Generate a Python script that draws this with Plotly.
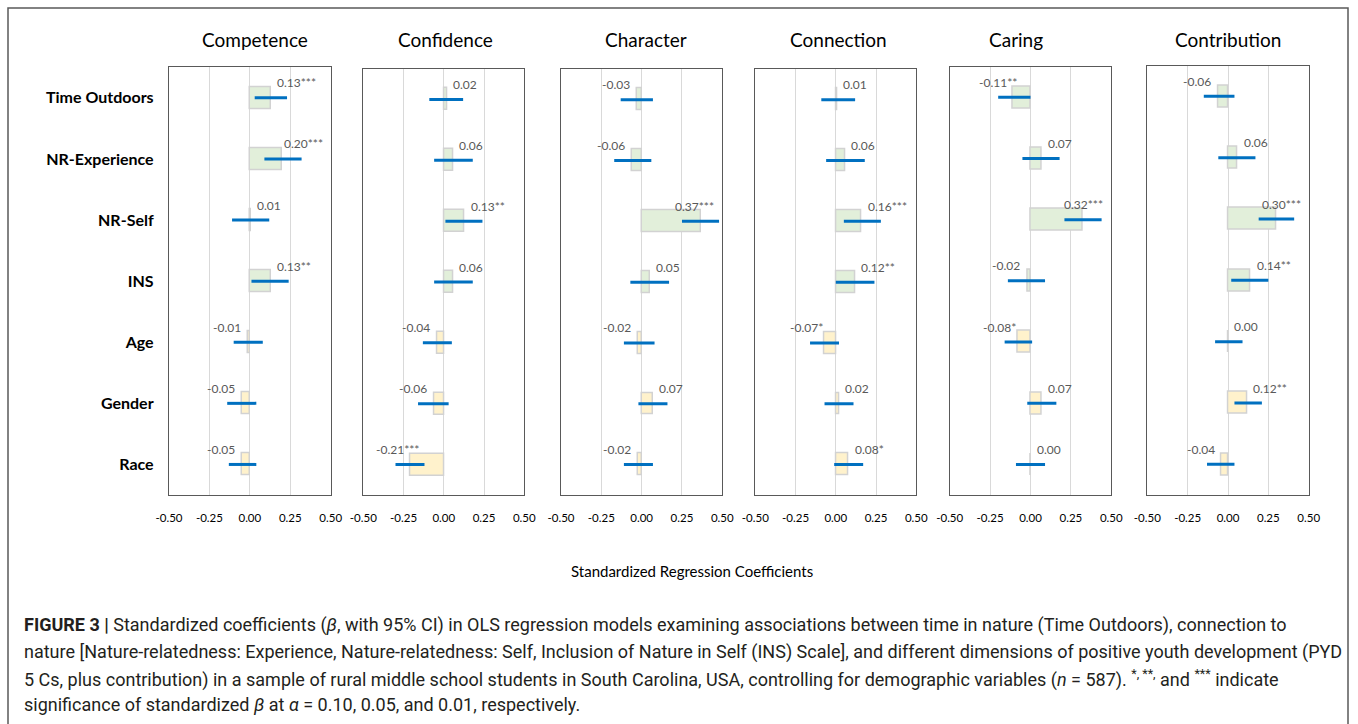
import plotly.graph_objects as go

# ---------------- data ----------------
categories = ["Time Outdoors", "NR-Experience", "NR-Self", "INS", "Age", "Gender", "Race"]
predictor_group = ["nature", "nature", "nature", "nature", "demo", "demo", "demo"]
outcomes = ["Competence", "Confidence", "Character", "Connection", "Caring", "Contribution"]
tick_values = [-0.50, -0.25, 0.00, 0.25, 0.50]
tick_labels = ["-0.50", "-0.25", "0.00", "0.25", "0.50"]

competence_beta = [0.13, 0.20, 0.01, 0.13, -0.01, -0.05, -0.05]
competence_sig = ["***", "***", "", "**", "", "", ""]
competence_lo = [0.03, 0.09, -0.11, 0.01, -0.10, -0.14, -0.13]
competence_hi = [0.23, 0.32, 0.12, 0.24, 0.08, 0.04, 0.04]

confidence_beta = [0.02, 0.06, 0.13, 0.06, -0.04, -0.06, -0.21]
confidence_sig = ["", "", "**", "", "", "", "***"]
confidence_lo = [-0.09, -0.06, 0.01, -0.06, -0.13, -0.16, -0.30]
confidence_hi = [0.12, 0.18, 0.24, 0.18, 0.05, 0.03, -0.12]

character_beta = [-0.03, -0.06, 0.37, 0.05, -0.02, 0.07, -0.02]
character_sig = ["", "", "***", "", "", "", ""]
character_lo = [-0.13, -0.17, 0.25, -0.07, -0.11, -0.02, -0.11]
character_hi = [0.07, 0.06, 0.48, 0.17, 0.08, 0.16, 0.07]

connection_beta = [0.01, 0.06, 0.16, 0.12, -0.07, 0.02, 0.08]
connection_sig = ["", "", "***", "**", "*", "", "*"]
connection_lo = [-0.09, -0.06, 0.05, 0.00, -0.16, -0.07, -0.01]
connection_hi = [0.12, 0.18, 0.28, 0.24, 0.02, 0.11, 0.17]

caring_beta = [-0.11, 0.07, 0.32, -0.02, -0.08, 0.07, 0.00]
caring_sig = ["**", "", "***", "", "*", "", ""]
caring_lo = [-0.20, -0.05, 0.21, -0.14, -0.16, -0.02, -0.09]
caring_hi = [0.00, 0.18, 0.44, 0.09, 0.01, 0.16, 0.09]

contribution_beta = [-0.06, 0.06, 0.30, 0.14, 0.00, 0.12, -0.04]
contribution_sig = ["", "", "***", "**", "", "**", ""]
contribution_lo = [-0.15, -0.06, 0.19, 0.02, -0.08, 0.04, -0.13]
contribution_hi = [0.04, 0.17, 0.41, 0.25, 0.09, 0.21, 0.04]

axis_title = "Standardized Regression Coefficients"
caption_lines = [
    "<b>FIGURE 3 |</b> Standardized coefficients (<i>β</i>, with 95% CI) in OLS regression models examining associations between time in nature (Time Outdoors), connection to",
    "nature [Nature-relatedness: Experience, Nature-relatedness: Self, Inclusion of Nature in Self (INS) Scale], and different dimensions of positive youth development (PYD",
    "5 Cs, plus contribution) in a sample of rural middle school students in South Carolina, USA, controlling for demographic variables (<i>n</i> = 587). <sup>*, **,</sup> and <sup>***</sup> indicate",
    "significance of standardized <i>β</i> at <i>α</i> = 0.10, 0.05, and 0.01, respectively.",
]

panels = [
    (competence_beta, competence_sig, competence_lo, competence_hi),
    (confidence_beta, confidence_sig, confidence_lo, confidence_hi),
    (character_beta, character_sig, character_lo, character_hi),
    (connection_beta, connection_sig, connection_lo, connection_hi),
    (caring_beta, caring_sig, caring_lo, caring_hi),
    (contribution_beta, contribution_sig, contribution_lo, contribution_hi),
]

# ---------------- layout geometry (pixels) ----------------
W, H = 1358, 724
panel_x = [(169.0, 330.7), (363.3, 524.3), (561.0, 722.3), (755.3, 916.3), (949.7, 1111.3), (1147.3, 1308.7)]
panel_top = [67.3, 69.0, 69.3, 69.3, 66.7, 65.7]
panel_bottom = 495.0
title_x = [255, 445, 646, 838, 1016, 1228]
title_y = 40

FONT = "Lato, 'Open Sans', sans-serif"
CAP_FONT = "Roboto, 'Liberation Sans', Arial, sans-serif"
GREEN = "#E2EFDA"
YELLOW = "#FFF2CC"
BLUE = "#0070C0"


def px_x(v):
    return v / W


def px_y(v):
    return 1 - v / H


fig = go.Figure()
annotations = []

for i, (beta, sig, lo, hi) in enumerate(panels):
    n = i + 1
    xa = "x" if n == 1 else f"x{n}"
    ya = "y" if n == 1 else f"y{n}"
    colors = [GREEN if g == "nature" else YELLOW for g in predictor_group]
    fig.add_trace(go.Bar(
        x=beta, y=categories, orientation="h", base=0,
        marker=dict(color=colors, line=dict(color="#D2D2D2", width=1.5)),
        width=0.36, xaxis=xa, yaxis=ya, showlegend=False, hoverinfo="skip",
    ))
    cx, cy = [], []
    for c, l, h in zip(categories, lo, hi):
        cx += [l, h, None]
        cy += [c, c, None]
    fig.add_trace(go.Scatter(
        x=cx, y=cy, mode="lines", line=dict(color=BLUE, width=3),
        xaxis=xa, yaxis=ya, showlegend=False, hoverinfo="skip",
    ))

    x0, x1 = panel_x[i]
    ppu = x1 - x0
    axis_kw = dict(
        domain=[px_x(x0), px_x(x1)], range=[-0.5, 0.5],
        tickvals=tick_values, ticktext=tick_labels, ticks="",
        showgrid=True, gridcolor="#D9D9D9", gridwidth=1.2,
        zeroline=False, showline=True, mirror=True,
        linecolor="#595959", linewidth=1.3, automargin=False,
        tickfont=dict(family=FONT, size=11.5, color="#000000"),
        ticklabelstandoff=12, fixedrange=True,
    )
    yaxis_kw = dict(
        domain=[px_y(panel_bottom), px_y(panel_top[i])],
        type="category", categoryorder="array", categoryarray=categories,
        range=[6.5, -0.5], showgrid=False, zeroline=False,
        showline=True, mirror=True, linecolor="#595959", linewidth=1.3,
        ticks="", showticklabels=(n == 1), fixedrange=True, automargin=False,
        tickfont=dict(family=FONT, size=16, color="#000000", weight="bold"),
        ticklabelstandoff=11,
    )
    axis_kw["anchor"] = ya
    yaxis_kw["anchor"] = xa
    fig.update_layout(**{("xaxis" if n == 1 else f"xaxis{n}"): axis_kw,
                         ("yaxis" if n == 1 else f"yaxis{n}"): yaxis_kw})

    # value labels
    for b, s, c in zip(beta, sig, categories):
        num = f"{b:.2f}"
        txt = num + s
        if b >= 0:
            w = len(num) * 5.8 + len(s) * 5.5
            if (b + 0.5) * ppu + 4 + w > ppu - 6:
                x, anchor, shift = 0.5, "right", -6
            else:
                x, anchor, shift = b, "left", 4
        else:
            x, anchor, shift = b, "right", -5 + 5.5 * len(s)
        annotations.append(dict(
            x=x, y=c, xref=xa, yref=ya, text=txt, showarrow=False,
            xanchor=anchor, yanchor="middle", xshift=shift, yshift=15,
            font=dict(family=FONT, size=12, color="#595959"),
        ))

    # panel title
    annotations.append(dict(
        x=px_x(title_x[i]), y=px_y(title_y), xref="paper", yref="paper",
        text=outcomes[i], showarrow=False, xanchor="center", yanchor="middle",
        font=dict(family=FONT, size=19, color="#000000"),
    ))

# common axis title
annotations.append(dict(
    x=px_x(692), y=px_y(571), xref="paper", yref="paper", text=axis_title,
    showarrow=False, xanchor="center", yanchor="middle",
    font=dict(family=FONT, size=15, color="#000000"),
))

# caption
caption_y = [625, 651.5, 678, 704.5]
for line, yy in zip(caption_lines, caption_y):
    annotations.append(dict(
        x=px_x(22), y=px_y(yy), xref="paper", yref="paper", text=line,
        showarrow=False, xanchor="left", yanchor="middle", align="left",
        font=dict(family=CAP_FONT, size=18, color="#231F20"),
    ))

fig.update_layout(
    width=W, height=H, margin=dict(l=0, r=0, t=0, b=0, pad=0, autoexpand=False),
    paper_bgcolor="white", plot_bgcolor="white",
    annotations=annotations, bargap=0,
    shapes=[dict(type="rect", xref="paper", yref="paper",
                 x0=px_x(8), x1=px_x(1348), y0=-0.05, y1=px_y(8),
                 line=dict(color="#5A5A5A", width=1.5), fillcolor="rgba(0,0,0,0)")],
)

post = (
    "document.documentElement.style.margin='0';"
    "document.body.style.margin='0';document.body.style.padding='0';"
    "document.documentElement.style.overflow='hidden';document.body.style.overflow='hidden';"
)
fig.write_html("out.html", config={"displayModeBar": False}, post_script=post)
